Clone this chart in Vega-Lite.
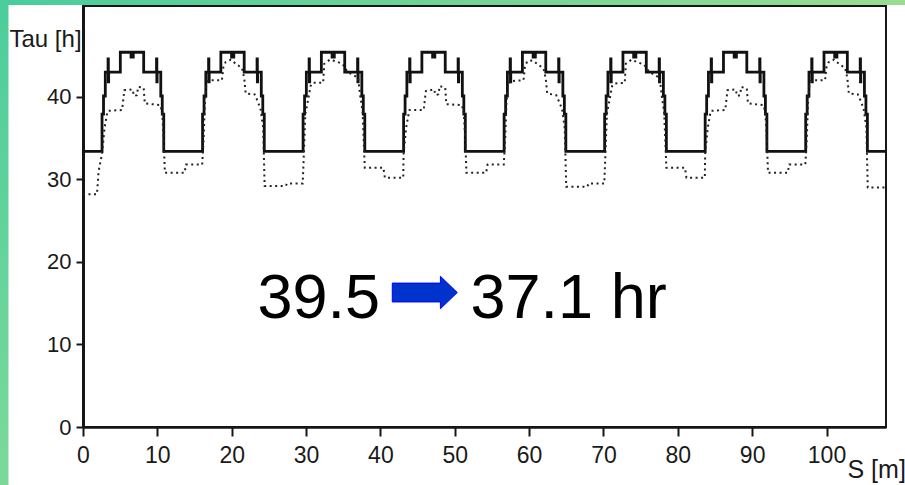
{
  "$schema": "https://vega.github.io/schema/vega-lite/v6.json",
  "width": 803,
  "height": 421,
  "autosize": {"type": "none"},
  "padding": {"left": 83, "top": 6, "right": 19, "bottom": 58},
  "background": "white",
  "datasets": {
    "solid": [
      {"s":0,"tau":33.4},
      {"s":2.56,"tau":37.9},{"s":2.76,"tau":40.1},{"s":3.00,"tau":43.0},{"s":3.37,"tau":44.6},{"s":3.41,"tau":41.8},{"s":3.45,"tau":43.0},{"s":5.02,"tau":45.4},{"s":6.46,"tau":44.8},{"s":6.76,"tau":45.4},{"s":8.16,"tau":43.0},{"s":9.89,"tau":44.6},{"s":9.93,"tau":41.8},{"s":9.97,"tau":43.0},{"s":10.46,"tau":40.1},{"s":10.66,"tau":37.9},{"s":10.86,"tau":33.4},
      {"s":16.08,"tau":37.9},{"s":16.28,"tau":40.1},{"s":16.52,"tau":43.0},{"s":16.89,"tau":44.6},{"s":16.93,"tau":41.8},{"s":16.97,"tau":43.0},{"s":18.54,"tau":45.4},{"s":19.98,"tau":44.8},{"s":20.28,"tau":45.4},{"s":21.68,"tau":43.0},{"s":23.41,"tau":44.6},{"s":23.45,"tau":41.8},{"s":23.49,"tau":43.0},{"s":23.98,"tau":40.1},{"s":24.18,"tau":37.9},{"s":24.38,"tau":33.4},
      {"s":29.60,"tau":37.9},{"s":29.80,"tau":40.1},{"s":30.04,"tau":43.0},{"s":30.41,"tau":44.6},{"s":30.45,"tau":41.8},{"s":30.49,"tau":43.0},{"s":32.06,"tau":45.4},{"s":33.50,"tau":44.8},{"s":33.80,"tau":45.4},{"s":35.20,"tau":43.0},{"s":36.93,"tau":44.6},{"s":36.97,"tau":41.8},{"s":37.01,"tau":43.0},{"s":37.50,"tau":40.1},{"s":37.70,"tau":37.9},{"s":37.90,"tau":33.4},
      {"s":43.12,"tau":37.9},{"s":43.32,"tau":40.1},{"s":43.56,"tau":43.0},{"s":43.93,"tau":44.6},{"s":43.97,"tau":41.8},{"s":44.01,"tau":43.0},{"s":45.58,"tau":45.4},{"s":47.02,"tau":44.8},{"s":47.32,"tau":45.4},{"s":48.72,"tau":43.0},{"s":50.45,"tau":44.6},{"s":50.49,"tau":41.8},{"s":50.53,"tau":43.0},{"s":51.02,"tau":40.1},{"s":51.22,"tau":37.9},{"s":51.42,"tau":33.4},
      {"s":56.64,"tau":37.9},{"s":56.84,"tau":40.1},{"s":57.08,"tau":43.0},{"s":57.45,"tau":44.6},{"s":57.49,"tau":41.8},{"s":57.53,"tau":43.0},{"s":59.10,"tau":45.4},{"s":60.54,"tau":44.8},{"s":60.84,"tau":45.4},{"s":62.24,"tau":43.0},{"s":63.97,"tau":44.6},{"s":64.01,"tau":41.8},{"s":64.05,"tau":43.0},{"s":64.54,"tau":40.1},{"s":64.74,"tau":37.9},{"s":64.94,"tau":33.4},
      {"s":70.16,"tau":37.9},{"s":70.36,"tau":40.1},{"s":70.60,"tau":43.0},{"s":70.97,"tau":44.6},{"s":71.01,"tau":41.8},{"s":71.05,"tau":43.0},{"s":72.62,"tau":45.4},{"s":74.06,"tau":44.8},{"s":74.36,"tau":45.4},{"s":75.76,"tau":43.0},{"s":77.49,"tau":44.6},{"s":77.53,"tau":41.8},{"s":77.57,"tau":43.0},{"s":78.06,"tau":40.1},{"s":78.26,"tau":37.9},{"s":78.46,"tau":33.4},
      {"s":83.68,"tau":37.9},{"s":83.88,"tau":40.1},{"s":84.12,"tau":43.0},{"s":84.49,"tau":44.6},{"s":84.53,"tau":41.8},{"s":84.57,"tau":43.0},{"s":86.14,"tau":45.4},{"s":87.58,"tau":44.8},{"s":87.88,"tau":45.4},{"s":89.28,"tau":43.0},{"s":91.01,"tau":44.6},{"s":91.05,"tau":41.8},{"s":91.09,"tau":43.0},{"s":91.58,"tau":40.1},{"s":91.78,"tau":37.9},{"s":91.98,"tau":33.4},
      {"s":97.20,"tau":37.9},{"s":97.40,"tau":40.1},{"s":97.64,"tau":43.0},{"s":98.01,"tau":44.6},{"s":98.05,"tau":41.8},{"s":98.09,"tau":43.0},{"s":99.66,"tau":45.4},{"s":101.10,"tau":44.8},{"s":101.40,"tau":45.4},{"s":102.80,"tau":43.0},{"s":104.53,"tau":44.6},{"s":104.57,"tau":41.8},{"s":104.61,"tau":43.0},{"s":105.10,"tau":40.1},{"s":105.30,"tau":37.9},{"s":105.50,"tau":33.4},
      {"s":108,"tau":33.4}
    ],
    "dotted": [
      {"s":0,"tau":28.2},{"s":1.88,"tau":28.2},{"s":2.1,"tau":31.0},
      {"s":2.56,"tau":33.1},{"s":2.91,"tau":36.3},{"s":3.23,"tau":37.9},{"s":3.36,"tau":38.3},{"s":5.26,"tau":38.4},{"s":5.46,"tau":40.0},{"s":5.56,"tau":40.8},{"s":6.66,"tau":40.9},{"s":6.86,"tau":40.1},{"s":7.26,"tau":40.2},{"s":7.41,"tau":41.2},{"s":8.16,"tau":41.1},{"s":8.31,"tau":39.2},{"s":10.41,"tau":39.0},{"s":10.66,"tau":38.0},{"s":10.86,"tau":34.7},{"s":11.01,"tau":30.8},{"s":13.66,"tau":30.8},{"s":13.86,"tau":31.8},{"s":16.03,"tau":31.8},
      {"s":16.23,"tau":35.0},{"s":16.38,"tau":39.0},{"s":16.58,"tau":41.5},{"s":16.88,"tau":42.0},{"s":18.68,"tau":42.0},{"s":18.88,"tau":43.6},{"s":19.18,"tau":44.2},{"s":19.88,"tau":44.5},{"s":20.68,"tau":43.9},{"s":21.38,"tau":43.5},{"s":21.68,"tau":42.3},{"s":21.88,"tau":40.4},{"s":23.08,"tau":40.3},{"s":23.48,"tau":39.5},{"s":23.88,"tau":38.5},{"s":24.23,"tau":36.3},{"s":24.43,"tau":29.2},{"s":27.28,"tau":29.2},{"s":27.43,"tau":29.5},{"s":29.55,"tau":29.5},
      {"s":29.70,"tau":33.0},{"s":29.90,"tau":37.9},{"s":30.35,"tau":40.0},{"s":30.60,"tau":41.3},{"s":30.90,"tau":41.7},{"s":32.30,"tau":41.7},{"s":32.45,"tau":44.0},{"s":33.20,"tau":44.5},{"s":34.00,"tau":44.3},{"s":34.90,"tau":44.0},{"s":35.60,"tau":43.0},{"s":37.00,"tau":42.3},{"s":37.30,"tau":40.0},{"s":37.60,"tau":38.2},{"s":37.90,"tau":31.4},{"s":40.40,"tau":31.4},{"s":40.60,"tau":30.2},{"s":43.07,"tau":30.2},
      {"s":43.12,"tau":33.1},{"s":43.47,"tau":36.3},{"s":43.79,"tau":37.9},{"s":43.92,"tau":38.4},{"s":45.82,"tau":38.4},{"s":46.02,"tau":40.0},{"s":46.12,"tau":40.7},{"s":47.22,"tau":40.9},{"s":47.42,"tau":40.2},{"s":47.82,"tau":40.3},{"s":47.97,"tau":41.3},{"s":48.72,"tau":41.1},{"s":48.87,"tau":39.1},{"s":50.97,"tau":39.0},{"s":51.22,"tau":38.0},{"s":51.42,"tau":34.7},{"s":51.57,"tau":30.8},{"s":54.22,"tau":30.8},{"s":54.42,"tau":31.8},{"s":56.59,"tau":31.8},
      {"s":56.79,"tau":35.0},{"s":56.94,"tau":39.0},{"s":57.14,"tau":41.4},{"s":57.44,"tau":41.9},{"s":59.24,"tau":42.0},{"s":59.44,"tau":43.6},{"s":59.74,"tau":44.3},{"s":60.44,"tau":44.4},{"s":61.24,"tau":43.9},{"s":61.94,"tau":43.4},{"s":62.24,"tau":42.2},{"s":62.44,"tau":40.4},{"s":63.64,"tau":40.2},{"s":64.04,"tau":39.4},{"s":64.44,"tau":38.5},{"s":64.79,"tau":36.2},{"s":64.99,"tau":29.1},{"s":67.84,"tau":29.1},{"s":67.99,"tau":29.5},{"s":70.11,"tau":29.5},
      {"s":70.26,"tau":33.0},{"s":70.46,"tau":37.9},{"s":70.91,"tau":40.1},{"s":71.16,"tau":41.3},{"s":71.46,"tau":41.6},{"s":72.86,"tau":41.7},{"s":73.01,"tau":44.0},{"s":73.76,"tau":44.5},{"s":74.56,"tau":44.2},{"s":75.46,"tau":43.9},{"s":76.16,"tau":43.0},{"s":77.56,"tau":42.3},{"s":77.86,"tau":40.0},{"s":78.16,"tau":38.2},{"s":78.46,"tau":31.4},{"s":80.96,"tau":31.4},{"s":81.16,"tau":30.2},{"s":83.63,"tau":30.2},
      {"s":83.68,"tau":33.1},{"s":84.03,"tau":36.3},{"s":84.35,"tau":37.9},{"s":84.48,"tau":38.3},{"s":86.38,"tau":38.4},{"s":86.58,"tau":40.0},{"s":86.68,"tau":40.8},{"s":87.78,"tau":40.9},{"s":87.98,"tau":40.1},{"s":88.38,"tau":40.2},{"s":88.53,"tau":41.2},{"s":89.28,"tau":41.0},{"s":89.43,"tau":39.2},{"s":91.53,"tau":39.0},{"s":91.78,"tau":38.0},{"s":91.98,"tau":34.7},{"s":92.13,"tau":30.8},{"s":94.78,"tau":30.8},{"s":94.98,"tau":31.8},{"s":97.15,"tau":31.8},
      {"s":97.35,"tau":35.0},{"s":97.50,"tau":39.0},{"s":97.70,"tau":41.5},{"s":98.00,"tau":42.0},{"s":99.80,"tau":42.0},{"s":100.00,"tau":43.6},{"s":100.30,"tau":44.2},{"s":101.00,"tau":44.5},{"s":101.80,"tau":43.9},{"s":102.50,"tau":43.5},{"s":102.80,"tau":42.3},{"s":103.00,"tau":40.4},{"s":104.20,"tau":40.3},{"s":104.60,"tau":39.5},{"s":105.00,"tau":38.5},{"s":105.35,"tau":36.3},{"s":105.55,"tau":29.0},{"s":108.0,"tau":29.0}
    ],
    "notes": [
      {"s":23.47,"tau":13.2,"label":"39.5"},
      {"s":52.12,"tau":13.2,"label":"37.1 hr"}
    ],
    "arrow": [
      {"s":45.97,"tau":16.29}
    ]
  },
  "config": {
    "view": {"stroke": "#161616", "strokeWidth": 2},
    "axis": {
      "zindex": 1,
      "grid": false,
      "domainColor": "#161616",
      "tickColor": "#161616",
      "labelColor": "#1a1a1a",
      "titleColor": "#1a1a1a",
      "labelFont": "Liberation Sans, Arial, sans-serif",
      "titleFont": "Liberation Sans, Arial, sans-serif",
      "titleFontWeight": "normal"
    }
  },
  "layer": [
    {
      "data": {"values": [{}]},
      "mark": {"type": "rect", "clip": false, "strokeWidth": 0,
        "fill": {"gradient": "linear", "x1": 0, "y1": 0, "x2": 1, "y2": 0,
          "stops": [{"offset": 0, "color": "#48cc9c"}, {"offset": 1, "color": "#9adc92"}]}},
      "encoding": {
        "x": {"datum": -11.3, "type": "quantitative", "scale": {"domain": [0, 108], "nice": false, "zero": false}, "title": "S [m]"},
        "x2": {"datum": 110.7},
        "y": {"datum": 51.12, "type": "quantitative", "scale": {"domain": [0, 51], "nice": false}, "title": "Tau [h]"},
        "y2": {"datum": 51.8}
      }
    },
    {
      "data": {"values": [{}]},
      "mark": {"type": "rect", "clip": false, "strokeWidth": 0,
        "fill": {"gradient": "linear", "x1": 0, "y1": 0, "x2": 0, "y2": 1,
          "stops": [{"offset": 0, "color": "#4ccd9c"}, {"offset": 1, "color": "#7cd99a"}]}},
      "encoding": {
        "x": {"datum": -11.3, "type": "quantitative", "scale": {"domain": [0, 108], "nice": false, "zero": false}, "title": "S [m]"},
        "x2": {"datum": -10.02},
        "y": {"datum": -7.6, "type": "quantitative", "scale": {"domain": [0, 51], "nice": false}, "title": "Tau [h]"},
        "y2": {"datum": 51.8}
      }
    },
    {
      "data": {"name": "solid"},
      "mark": {"type": "line", "interpolate": "step-after", "color": "#111111", "strokeWidth": 2.8},
      "encoding": {
        "x": {"field": "s", "type": "quantitative", "scale": {"domain": [0, 108], "nice": false, "zero": false}, "title": "S [m]",
          "axis": {"values": [0,10,20,30,40,50,60,70,80,90,100], "tickSize": 9, "tickWidth": 2, "domainWidth": 2.5,
            "labelFontSize": 23, "labelPadding": 8, "labelFlush": false, "labelOverlap": false,
            "titleFontSize": 25, "titleX": 764, "titleY": 50, "titleAlign": "left", "titleBaseline": "alphabetic"}},
        "y": {"field": "tau", "type": "quantitative", "scale": {"domain": [0, 51], "nice": false}, "title": "Tau [h]",
          "axis": {"values": [0,10,20,30,40], "tickSize": 7, "tickWidth": 2, "domainWidth": 3,
            "labelFontSize": 22, "labelPadding": 5, "labelOverlap": false,
            "titleFontSize": 24, "titleAngle": 0, "titleX": -74, "titleY": 40, "titleAlign": "left", "titleBaseline": "alphabetic"}}
      }
    },
    {
      "data": {"name": "dotted"},
      "mark": {"type": "line", "interpolate": "linear", "color": "#222222", "strokeWidth": 2, "strokeDash": [2, 3.5]},
      "encoding": {
        "x": {"field": "s", "type": "quantitative", "scale": {"domain": [0, 108], "nice": false, "zero": false}, "title": "S [m]"},
        "y": {"field": "tau", "type": "quantitative", "scale": {"domain": [0, 51], "nice": false}, "title": "Tau [h]"}
      }
    },
    {
      "data": {"name": "notes"},
      "mark": {"type": "text", "align": "left", "baseline": "alphabetic", "font": "Liberation Sans, Arial, sans-serif", "fontSize": 63, "color": "#000000"},
      "encoding": {
        "x": {"field": "s", "type": "quantitative", "scale": {"domain": [0, 108], "nice": false, "zero": false}, "title": "S [m]"},
        "y": {"field": "tau", "type": "quantitative", "scale": {"domain": [0, 51], "nice": false}, "title": "Tau [h]"},
        "text": {"field": "label"}
      }
    },
    {
      "data": {"name": "arrow"},
      "mark": {"type": "point", "shape": "M -1 -0.29 L 0.48 -0.29 L 0.48 -0.5 L 1 0 L 0.48 0.5 L 0.48 0.29 L -1 0.29 Z",
        "size": 4225, "filled": true, "fill": "#0033cc", "stroke": "#0000ff", "strokeWidth": 1, "opacity": 1},
      "encoding": {
        "x": {"field": "s", "type": "quantitative", "scale": {"domain": [0, 108], "nice": false, "zero": false}, "title": "S [m]"},
        "y": {"field": "tau", "type": "quantitative", "scale": {"domain": [0, 51], "nice": false}, "title": "Tau [h]"}
      }
    }
  ]
}
